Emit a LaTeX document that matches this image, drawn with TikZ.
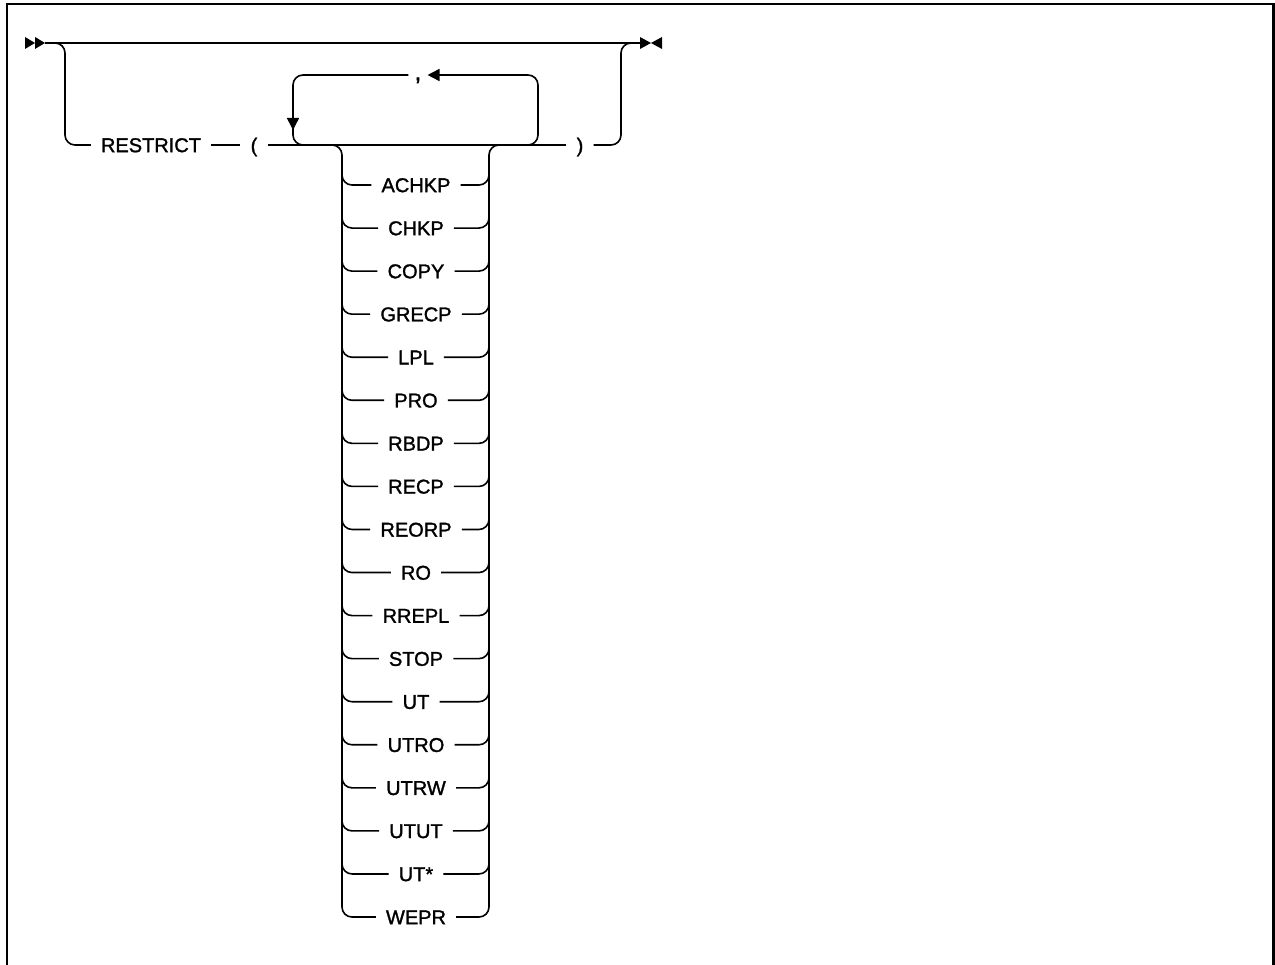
\documentclass[tikz,border=0pt]{standalone}
\usepackage{fontspec}
\setmainfont{Liberation Sans}
\newfontfamily\kwfont[FakeBold=1.4]{Liberation Sans}
\usetikzlibrary{arrows.meta}
\tikzset{
  kw/.style={font=\kwfont\fontsize{20}{24}\selectfont, inner xsep=10pt, inner ysep=0pt, text height=14.3pt, text depth=0pt},
  rail/.style={line width=1.6pt, rounded corners=10pt},
  tipa/.style={-{Triangle[length=12pt,width=12pt]}},
  frame/.style={line width=2.5pt}
}
\begin{document}
\begin{tikzpicture}[x=1pt,y=-1pt]
\useasboundingbox (0,0) rectangle (1275,965);
% frame
\draw[frame] (7,966) -- (7,4) -- (1273.5,4) -- (1273.5,966);

% start and end marks
\coordinate (s) at (45,43);
\coordinate (e) at (640,43);
\fill (25,37) -- (35,43) -- (25,49) -- cycle;
\fill (35,37) -- (45,43) -- (35,49) -- cycle;
\fill (640,37) -- (651,43) -- (640,49) -- cycle;
\fill (662,37) -- (651,43) -- (662,49) -- cycle;

% main bypass line
\draw[rail] (s) -- (e);

% nodes
\node[kw] (restrict) at (151,145) {RESTRICT};
\node[kw] (lp) at (254,145) {(};
\node[kw] (rp) at (580,145) {)};
\node[kw, inner xsep=6pt, font=\kwfont\fontsize{24}{28}\selectfont] (comma) at (418,73) {,};

\coordinate (b1) at (65,145);
\draw[rail] (s) -| (b1) -- (restrict.west);
\draw[rail] (restrict.east) -- (lp.west);
\draw[rail] (lp.east) -- (rp.west);
\draw[rail] (rp.east) -| (621,43) -- (e);

% repetition loop
\coordinate (lt) at (538,75);
\draw[rail, tipa] (520,145) -| (lt) -- (comma.east |- lt);
\draw[rail, tipa] (comma.west |- lt) -| (293,130);
\draw[rail] (293,126) |- (312,145);

% choice items
\foreach \t [count=\i from 0] in {ACHKP,CHKP,COPY,GRECP,LPL,PRO,RBDP,RECP,REORP,RO,RREPL,STOP,UT,UTRO,UTRW,UTUT,UT*,WEPR}{
  \node[kw] (it\i) at (416,185+43.06*\i) {\t};
}
\foreach \i in {0,...,16}{
  \pgfmathsetmacro\yy{185+43.06*\i}
  \draw[rail] (342,\yy-20) |- (it\i.west);
  \draw[rail] (it\i.east) -| (489,\yy-20);
}
\draw[rail] (322,145) -| (342,200) -- (342,600) |- (it17.west);
\draw[rail] (it17.east) -| (489,600) -- (489,200) |- (510,145);
\end{tikzpicture}
\end{document}
